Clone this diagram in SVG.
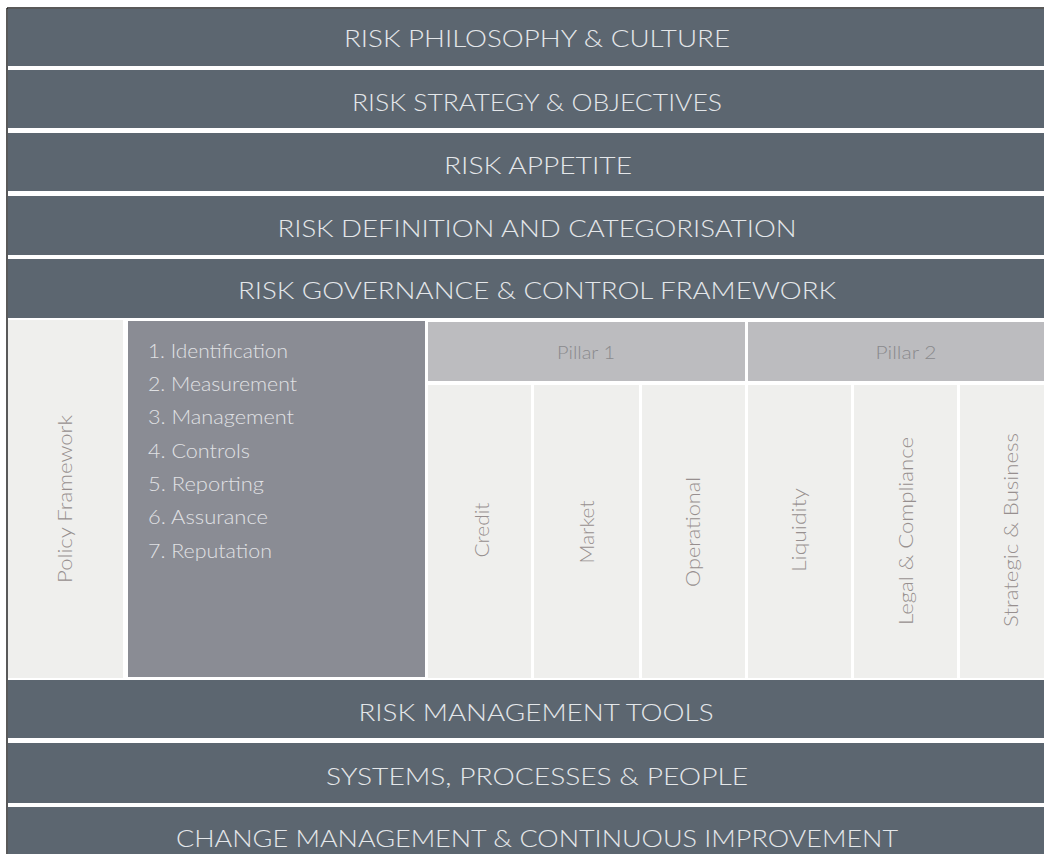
<svg xmlns="http://www.w3.org/2000/svg" width="1044" height="854" viewBox="0 0 1044 854">
  <style>
    .band { fill: #5c6670; }
    .bandText { font-family: Lato, "Liberation Sans", sans-serif; font-weight: 300; font-size: 24px; fill: #e4e7ea; text-anchor: middle; }
    .light { fill: #efefed; }
    .dark { fill: #8a8c94; }
    .hdr { fill: #bcbcbf; }
    .item { font-family: Lato, "Liberation Sans", sans-serif; font-weight: 300; font-size: 19px; fill: #e0e1e4; }
    .rot { font-family: Lato, "Liberation Sans", sans-serif; font-weight: 300; font-size: 19px; fill: #978f8f; text-anchor: middle; }
    .pillar { font-family: Lato, "Liberation Sans", sans-serif; font-weight: 300; font-size: 18px; fill: #8a8a8d; text-anchor: middle; }
  </style>
  <rect x="0" y="0" width="1044" height="854" fill="#ffffff"/>
  <g id="border">
    <line x1="7" y1="8" x2="1044" y2="8" stroke="#222" stroke-width="1.5"/>
    <line x1="7" y1="8" x2="7" y2="854" stroke="#222" stroke-width="1.5"/>
  </g>
  <g id="band-philosophy">
    <rect class="band" x="8" y="9" width="1036" height="57"/>
    <text class="bandText" x="537" y="47" textLength="386" lengthAdjust="spacingAndGlyphs">RISK PHILOSOPHY &amp; CULTURE</text>
  </g>
  <g id="band-strategy">
    <rect class="band" x="8" y="70" width="1036" height="58"/>
    <text class="bandText" x="537" y="111" textLength="370" lengthAdjust="spacingAndGlyphs">RISK STRATEGY &amp; OBJECTIVES</text>
  </g>
  <g id="band-appetite">
    <rect class="band" x="8" y="133" width="1036" height="58"/>
    <text class="bandText" x="538" y="174" textLength="188" lengthAdjust="spacingAndGlyphs">RISK APPETITE</text>
  </g>
  <g id="band-definition">
    <rect class="band" x="8" y="196" width="1036" height="59"/>
    <text class="bandText" x="537" y="237" textLength="519" lengthAdjust="spacingAndGlyphs">RISK DEFINITION AND CATEGORISATION</text>
  </g>
  <g id="band-governance">
    <rect class="band" x="8" y="259" width="1036" height="59"/>
    <text class="bandText" x="537" y="299" textLength="598" lengthAdjust="spacingAndGlyphs">RISK GOVERNANCE &amp; CONTROL FRAMEWORK</text>
  </g>
  <g id="policy-framework">
    <rect class="light" x="8" y="320" width="115" height="358"/>
    <text class="rot" transform="translate(72,499) rotate(-90)" textLength="168" lengthAdjust="spacingAndGlyphs">Policy Framework</text>
  </g>
  <g id="process-list">
    <rect class="dark" x="128" y="321" width="297" height="356"/>
    <text class="item" x="148" y="358" textLength="140" lengthAdjust="spacingAndGlyphs">1. Identification</text>
    <text class="item" x="148" y="391" textLength="149" lengthAdjust="spacingAndGlyphs">2. Measurement</text>
    <text class="item" x="148" y="424" textLength="146" lengthAdjust="spacingAndGlyphs">3. Management</text>
    <text class="item" x="148" y="458" textLength="102" lengthAdjust="spacingAndGlyphs">4. Controls</text>
    <text class="item" x="148" y="491" textLength="116" lengthAdjust="spacingAndGlyphs">5. Reporting</text>
    <text class="item" x="148" y="524" textLength="120" lengthAdjust="spacingAndGlyphs">6. Assurance</text>
    <text class="item" x="148" y="558" textLength="124" lengthAdjust="spacingAndGlyphs">7. Reputation</text>
  </g>
  <g id="pillar-1">
    <rect class="hdr" x="428" y="322" width="317" height="59"/>
    <text class="pillar" x="586" y="359" textLength="58" lengthAdjust="spacingAndGlyphs">Pillar 1</text>
  </g>
  <g id="pillar-2">
    <rect class="hdr" x="748" y="322" width="296" height="59"/>
    <text class="pillar" x="906" y="359" textLength="61" lengthAdjust="spacingAndGlyphs">Pillar 2</text>
  </g>
  <g id="col-credit">
    <rect class="light" x="428" y="385" width="103" height="293"/>
    <text class="rot" transform="translate(489,530) rotate(-90)" textLength="55" lengthAdjust="spacingAndGlyphs">Credit</text>
  </g>
  <g id="col-market">
    <rect class="light" x="534" y="385" width="105" height="293"/>
    <text class="rot" transform="translate(594,532) rotate(-90)" textLength="63" lengthAdjust="spacingAndGlyphs">Market</text>
  </g>
  <g id="col-operational">
    <rect class="light" x="642" y="385" width="103" height="293"/>
    <text class="rot" transform="translate(700,532) rotate(-90)" textLength="110" lengthAdjust="spacingAndGlyphs">Operational</text>
  </g>
  <g id="col-liquidity">
    <rect class="light" x="748" y="385" width="103" height="293"/>
    <text class="rot" transform="translate(806,530) rotate(-90)" textLength="84" lengthAdjust="spacingAndGlyphs">Liquidity</text>
  </g>
  <g id="col-legal">
    <rect class="light" x="854" y="385" width="103" height="293"/>
    <text class="rot" transform="translate(913,531) rotate(-90)" textLength="188" lengthAdjust="spacingAndGlyphs">Legal &amp; Compliance</text>
  </g>
  <g id="col-strategic">
    <rect class="light" x="960" y="385" width="84" height="293"/>
    <text class="rot" transform="translate(1018,530) rotate(-90)" textLength="194" lengthAdjust="spacingAndGlyphs">Strategic &amp; Business</text>
  </g>
  <g id="band-tools">
    <rect class="band" x="8" y="680" width="1036" height="58"/>
    <text class="bandText" x="536" y="721" textLength="355" lengthAdjust="spacingAndGlyphs">RISK MANAGEMENT TOOLS</text>
  </g>
  <g id="band-systems">
    <rect class="band" x="8" y="743" width="1036" height="60"/>
    <text class="bandText" x="537" y="785" textLength="422" lengthAdjust="spacingAndGlyphs">SYSTEMS, PROCESSES &amp; PEOPLE</text>
  </g>
  <g id="band-change">
    <rect class="band" x="8" y="807" width="1036" height="47"/>
    <text class="bandText" x="537" y="847" textLength="722" lengthAdjust="spacingAndGlyphs">CHANGE MANAGEMENT &amp; CONTINUOUS IMPROVEMENT</text>
  </g>
  <g id="connectors"></g>
</svg>
